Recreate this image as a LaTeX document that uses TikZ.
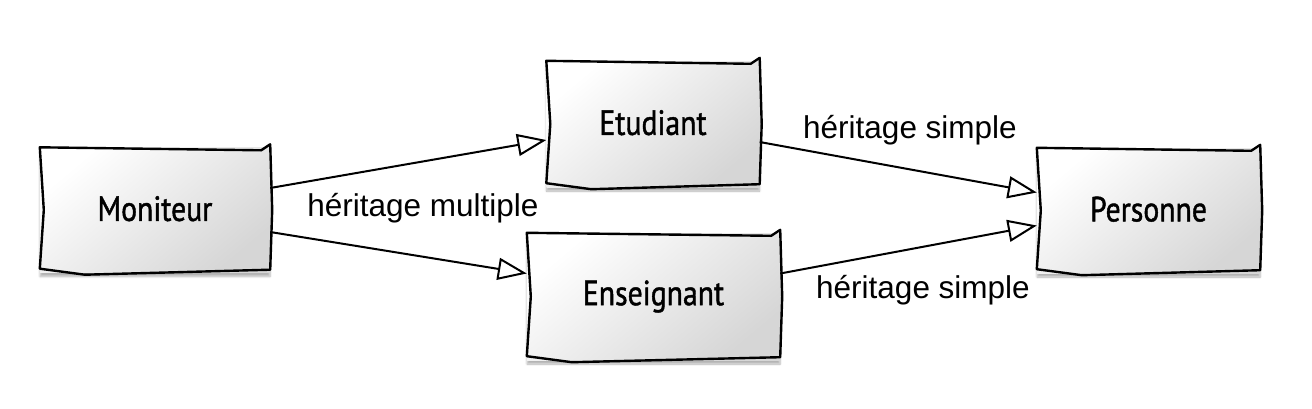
\documentclass[tikz,border=0pt]{standalone}
\usepackage{fontspec}
\setmainfont{Liberation Sans}
\newfontfamily\handfont{PT Sans}[FakeStretch=0.85,FakeBold=1.2]
\usetikzlibrary{arrows.meta,shadows.blur,calc}
\tikzset{
  sketchbox/.style={rectangle, minimum width=#1, minimum height=125pt, inner sep=0pt,
    font=\handfont\fontsize{35}{40}\selectfont,
    shading=axis, top color=white, bottom color=black!16, shading angle=40,
    blur shadow={shadow xshift=0pt, shadow yshift=-4pt, shadow opacity=30, shadow blur steps=6}},
  sketchline/.style={line width=2.4pt, line join=round, line cap=round, black},
  inh/.style={line width=2pt, -{Triangle[open, length=29pt, width=22pt, line width=2pt]}},
  lbl/.style={font=\fontsize{31.5}{36}\selectfont, inner sep=0pt}
}
\newcommand\sketchoutline[1]{%
  \draw[sketchline] (#1.north west) -- ($(#1.north east)+(-9,3)$) -- ($(#1.north east)+(0,-3)$)
    -- ($(#1.east)+(2,0)$) -- ($(#1.south east)+(0,-3)$) -- ($(#1.south west)+(45,2)$)
    -- ($(#1.south west)+(0,-4)$) -- ($(#1.west)+(4,0)$) -- cycle;}
\begin{document}
\begin{tikzpicture}[x=1pt,y=-1pt]
\useasboundingbox (0,0) rectangle (1312,408);
\node[sketchbox=230pt] (mon) at (155,210) {\raisebox{3pt}{Moniteur}};
\node[sketchbox=213pt, minimum height=126pt] (etu) at (653,124) {\raisebox{3pt}{Etudiant}};
\node[sketchbox=253pt, minimum height=127pt] (ens) at (653.5,296.5) {\raisebox{3pt}{Enseignant}};
\node[sketchbox=223pt] (per) at (1148.5,210.5) {\raisebox{3pt}{Personne}};
\sketchoutline{mon}
\sketchoutline{etu}
\sketchoutline{ens}
\sketchoutline{per}
\draw[inh] ([yshift=22pt]mon.east) -- ([yshift=-16pt]etu.west);
\draw[inh] ([yshift=-22pt]mon.east) -- ([yshift=23pt]ens.west);
\draw[inh] ([yshift=-18pt]etu.east) -- ([yshift=18pt]per.west);
\draw[inh] ([yshift=23pt]ens.east) -- ([yshift=-15pt]per.west);
\node[lbl] (l1) at (423,208) {héritage multiple};
\node[lbl] (l2) at (910,130) {héritage simple};
\node[lbl] (l3) at (923,290) {héritage simple};
\end{tikzpicture}
\end{document}
